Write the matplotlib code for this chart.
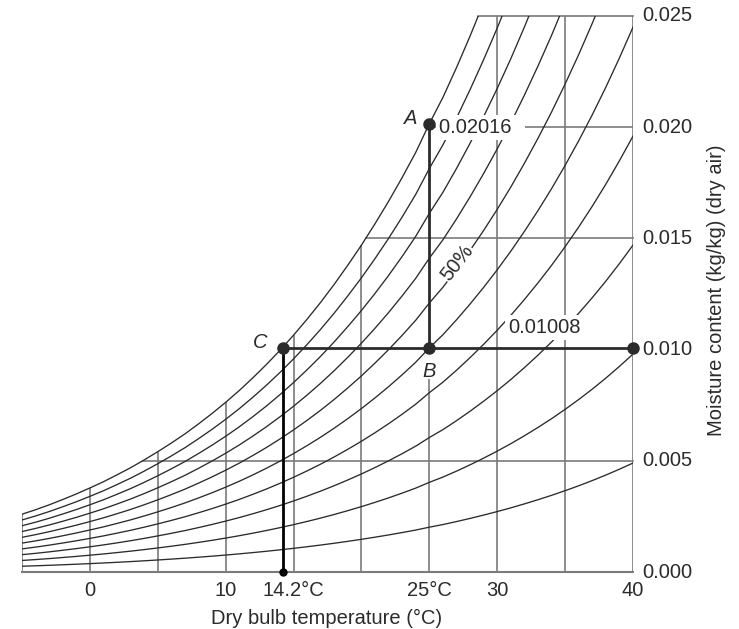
import numpy as np
import matplotlib
matplotlib.use("Agg")
import matplotlib.pyplot as plt

plt.rcParams['font.family'] = ['Liberation Sans', 'DejaVu Sans']
plt.rcParams['font.size'] = 14.5

# saturation moisture content (kg/kg dry air) read per degree, -5..40 C
temps = np.arange(-5, 41)
w_sat = [0.00260, 0.00280, 0.00302, 0.00326, 0.00351, 0.00378, 0.00406, 0.00437,
         0.00469, 0.00504, 0.00541, 0.00580, 0.00621, 0.00666, 0.00713, 0.00763,
         0.00816, 0.00873, 0.00933, 0.00997, 0.01065, 0.01137, 0.01213, 0.01294,
         0.01380, 0.01470, 0.01566, 0.01667, 0.01774, 0.01887, 0.02016, 0.02134,
         0.02268, 0.02410, 0.02560, 0.02718, 0.02885, 0.03063, 0.03250, 0.03447,
         0.03657, 0.03878, 0.04112, 0.04360, 0.04623, 0.04900]
percent = [10, 20, 30, 40, 50, 60, 70, 80, 90, 100]

grid_t = [-5, 0, 5, 10, 15, 20, 25, 30, 35, 40]
grid_w = [0.005, 0.015, 0.025]

xtick_pos = [0, 10, 14.2, 25, 30, 40]
xtick_lab = ['0', '10', '14.2\u00b0C', '25\u00b0C', '30', '40']
ytick_pos = [0.000, 0.005, 0.010, 0.015, 0.020, 0.025]

# process points
pA = (25, 0.02016)
pB = (25, 0.01008)
pC = (14.2, 0.01008)
pD = (40, 0.01008)

w_sat = np.array(w_sat)
dark = '#2b2b2b'
gridc = '#7a7a7a'
wbox = dict(facecolor='white', edgecolor='none', pad=2)

fig = plt.figure(figsize=(7.39, 6.29), dpi=100)
ax = fig.add_axes([0.0298, 0.0906, 0.8268, 0.884])
ax.set_xlim(-5, 40)
ax.set_ylim(0, 0.025)
ax.axis('off')

# grid: verticals up to saturation curve
for t in grid_t:
    top = min(w_sat[list(temps).index(t)], 0.025)
    if t == 25:
        top = 0.0087  # gap for the B label
    ax.plot([t, t], [0, top], color=gridc, lw=1.2, solid_capstyle='butt')
# horizontals from saturation curve to 40
for w in grid_w:
    t0 = np.interp(w, w_sat, temps)
    ax.plot([t0, 40], [w, w], color=gridc, lw=1.2, clip_on=False)
ax.plot([pA[0], 40], [0.020, 0.020], color=gridc, lw=1.2)
ax.plot([-5, 40], [0, 0], color=gridc, lw=1.5, clip_on=False)

# percentage saturation curves
for p in percent:
    ax.plot(temps, w_sat * p / 100, color=dark, lw=0.95)

# process lines
ax.plot([pA[0], pB[0]], [pA[1], pB[1]], color=dark, lw=2)
ax.plot([pC[0], pD[0]], [pC[1], pD[1]], color=dark, lw=2)
ax.plot([pC[0], pC[0]], [pC[1], 0], color='black', lw=2)
for p in [pA, pB, pC, pD]:
    ax.plot(*p, 'o', color=dark, ms=8, clip_on=False, zorder=5)
ax.plot(pC[0], 0, 'o', color='black', ms=5, clip_on=False, zorder=5)

# labels
ax.text(24.1, 0.0204, 'A', style='italic', ha='right', va='center', color=dark)
ax.text(25.0, 0.0090, 'B', style='italic', ha='center', va='center', color=dark)
ax.text(13.1, 0.0103, 'C', style='italic', ha='right', va='center', color=dark)
ax.text(25.7, 0.0200, '0.02016  ', ha='left', va='center', color=dark,
        bbox=wbox, zorder=4)
ax.text(30.8, 0.0110, '0.01008', ha='left', va='center', color=dark,
        bbox=wbox, zorder=4)
ax.text(27.05, 0.0139, '50%', rotation=52, ha='center', va='center', color=dark,
        bbox=dict(facecolor='white', edgecolor='none', pad=0.5), zorder=4)

for x, lab in zip(xtick_pos, xtick_lab):
    dx = 0.8 if x == 14.2 else 0
    ax.text(x + dx, -0.00085, lab, ha='center', va='center', color=dark, clip_on=False)
for y in ytick_pos:
    ax.text(40.65, y, '%.3f' % y, ha='left', va='center', color=dark, clip_on=False)

fig.text(327 / 739, 1 - 618 / 629, 'Dry bulb temperature (\u00b0C)',
         ha='center', va='center', color=dark)
fig.text(717 / 739, 1 - 290 / 629, 'Moisture content (kg/kg) (dry air)',
         rotation=90, ha='center', va='center', color=dark)

fig.savefig('out.png', dpi=100)
